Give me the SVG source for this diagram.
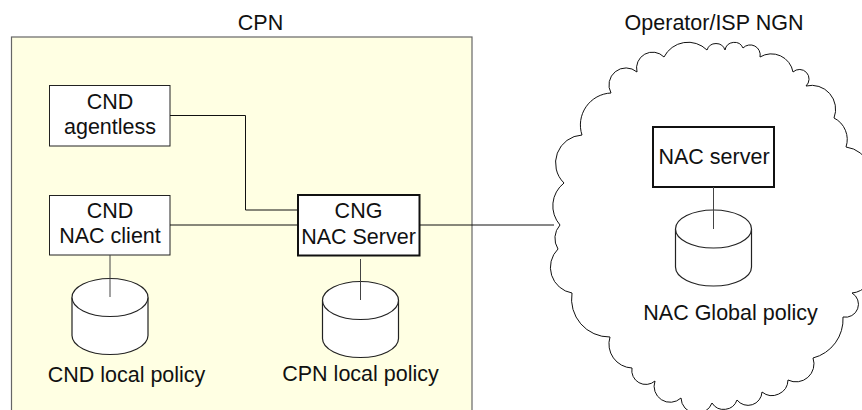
<svg xmlns="http://www.w3.org/2000/svg" width="862" height="410" viewBox="0 0 862 410">
<style>
text{font-family:"Liberation Sans",Arial,sans-serif;font-size:21.5px;fill:#111;text-anchor:middle}
.box{fill:#fff;stroke:#222;stroke-width:1}
.thick{fill:#fff;stroke:#111;stroke-width:2}
.cyl{fill:#fff;stroke:#222;stroke-width:1.2}
.conn{fill:none;stroke:#111;stroke-width:1}
.stem{fill:none;stroke:#444;stroke-width:1}
</style>
<defs>
<g id="cylinder">
<path class="cyl" d="M-38 0V38A38 19 0 0 0 38 38V0"/>
<ellipse class="cyl" cx="0" cy="0" rx="38" ry="19"/>
</g>
</defs>
<rect width="862" height="410" fill="#fff"/>
<g id="cpn">
<rect x="11.5" y="37" width="460.5" height="400" fill="#ffffe3" stroke="#666" stroke-width="1.2"/>
<text x="260.5" y="30">CPN</text>
</g>
<g id="ngn">
<path d="M560 225A29 29 0 0 1 564 183A28 28 0 0 1 582 135A32 32 0 0 1 611 93A17 17 0 0 1 637 72A16 16 0 0 1 664 57A27 27 0 0 1 707 50A9.5 9.5 0 0 1 725 50A9.5 9.5 0 0 1 743 48A10 10 0 0 1 760 57A22 22 0 0 1 793 72A8 8 0 0 1 806 86A24 24 0 0 1 834 118A24 24 0 0 1 846 147A30 30 0 0 1 865 196A50 50 0 0 1 872 268A22 22 0 0 1 852 293A13 13 0 0 1 843 317A40 40 0 0 1 813 358A18 18 0 0 1 788 380A16 16 0 0 1 762 392A14 14 0 0 1 737 400A14 14 0 0 1 712 403A16 16 0 0 1 681 398A16 16 0 0 1 655 381A14 14 0 0 1 632 368A24 24 0 0 1 610 337A38 38 0 0 1 572 293A26 26 0 0 1 558 249A20 20 0 0 1 560 225Z" fill="#fff" stroke="#111" stroke-width="1"/>
<text x="714" y="30">Operator/ISP NGN</text>
</g>
<g id="cnd-agentless">
<rect class="box" x="49.5" y="85.5" width="120.5" height="60.5"/>
<text x="110" y="109">CND</text>
<text x="110" y="134">agentless</text>
</g>
<g id="cnd-nac-client">
<rect class="box" x="49.5" y="195.5" width="120.5" height="59.5"/>
<text x="110" y="218">CND</text>
<text x="110" y="243">NAC client</text>
</g>
<g id="cng-nac-server">
<rect class="thick" x="298" y="195" width="121.5" height="60.5"/>
<text x="358.5" y="218">CNG</text>
<text x="358.5" y="243.5">NAC Server</text>
</g>
<g id="nac-server">
<rect class="thick" x="653" y="127" width="121" height="60"/>
<text x="714" y="164">NAC server</text>
</g>
<g id="cnd-local-policy">
<use href="#cylinder" x="110" y="297.5"/>
<text x="126.5" y="381.5">CND local policy</text>
</g>
<g id="cpn-local-policy">
<use href="#cylinder" x="360.5" y="300.5"/>
<text x="360.5" y="381">CPN local policy</text>
</g>
<g id="nac-global-policy">
<use href="#cylinder" x="713.5" y="229"/>
<text x="730.5" y="320">NAC Global policy</text>
</g>
<g id="connectors">
<path class="conn" d="M170 115.5H245.5V210H298"/>
<path class="conn" d="M170 225H298"/>
<path class="conn" d="M419.5 225H554"/>
<path class="stem" d="M110 255V297"/>
<path class="stem" d="M360.5 259V300"/>
<path class="stem" d="M713.5 187V229"/>
</g>
</svg>
